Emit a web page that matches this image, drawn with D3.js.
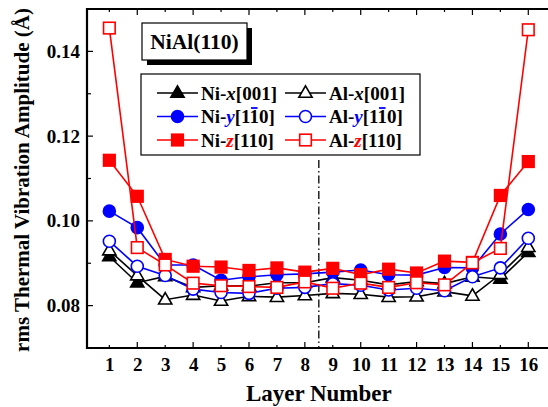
<!DOCTYPE html>
<html>
<meta charset="utf-8">
<style>
body { margin: 0; background: #fff; }
text { font-family: "Liberation Serif", "DejaVu Serif", serif; font-weight: bold; }
</style>
<script src="https://d3js.org/d3.v7.min.js"></script>
<body>
<div id="chart"></div>
<script>
// layers 1..16
var layers = d3.range(1, 17);

var niX = [0.0916, 0.0854, 0.0869, 0.0843, 0.0847, 0.0846, 0.0854, 0.0854,
           0.0866, 0.0860, 0.0849, 0.0857, 0.0852, 0.0868, 0.0863, 0.0926];
var alX = [0.0930, 0.0871, 0.0814, 0.0825, 0.0811, 0.0822, 0.0820, 0.0824,
           0.0829, 0.0827, 0.0820, 0.0821, 0.0833, 0.0823, 0.0874, 0.0938];
var niY = [0.1023, 0.0984, 0.0896, 0.0896, 0.0860, 0.0868, 0.0873, 0.0875,
           0.0879, 0.0884, 0.0873, 0.0872, 0.0890, 0.0889, 0.0969, 0.1027];
var alY = [0.0952, 0.0893, 0.0871, 0.0839, 0.0831, 0.0829, 0.0841, 0.0843,
           0.0852, 0.0848, 0.0837, 0.0841, 0.0835, 0.0868, 0.0889, 0.0959];
var niZ = [0.1143, 0.1058, 0.0909, 0.0893, 0.0891, 0.0883, 0.0889, 0.0879,
           0.0888, 0.0873, 0.0886, 0.0877, 0.0905, 0.0902, 0.1060, 0.1140];
var alZ = [0.1455, 0.0937, 0.0896, 0.0853, 0.0847, 0.0845, 0.0843, 0.0856,
           0.0841, 0.0853, 0.0843, 0.0854, 0.0849, 0.0901, 0.0935, 0.1451];

var yTicks = [0.08, 0.10, 0.12, 0.14];
var yMinor = [0.09, 0.11, 0.13];

var series = [
  {name: "Ni", dir: "x", idx: "[001]", values: niX, color: "#000", shape: "tri", filled: true},
  {name: "Al", dir: "x", idx: "[001]", values: alX, color: "#000", shape: "tri", filled: false},
  {name: "Ni", dir: "y", idx: "[1_10]", values: niY, color: "#0000ff", shape: "circ", filled: true},
  {name: "Al", dir: "y", idx: "[1_10]", values: alY, color: "#0000ff", shape: "circ", filled: false},
  {name: "Ni", dir: "z", idx: "[110]", values: niZ, color: "#ff0000", shape: "sq", filled: true},
  {name: "Al", dir: "z", idx: "[110]", values: alZ, color: "#ff0000", shape: "sq", filled: false}
];

var W = 548, H = 407;
var plotL = 87, plotT = 9, plotB = 348;

var svg = d3.select("#chart").append("svg")
  .attr("width", W).attr("height", H);

var x = d3.scaleLinear().domain([0.2, 16.8]).range([plotL, plotL + 16.6 * 27.93]);
var y = d3.scaleLinear().domain([0.07, 0.15]).range([plotB, plotT]);

// frame
var frame = svg.append("g");
frame.append("line").attr("x1", plotL).attr("x2", x.range()[1]).attr("y1", plotB).attr("y2", plotB)
  .attr("stroke", "#000").attr("stroke-width", 2.2);
frame.append("line").attr("x1", plotL).attr("x2", x.range()[1]).attr("y1", plotT).attr("y2", plotT)
  .attr("stroke", "#000").attr("stroke-width", 1.8);
frame.append("line").attr("x1", plotL).attr("x2", plotL).attr("y1", plotT - 1).attr("y2", plotB + 1)
  .attr("stroke", "#000").attr("stroke-width", 2.2);

// x axis (bottom, ticks inside)
var xAxis = svg.append("g").attr("transform", "translate(0," + plotB + ")")
  .call(d3.axisBottom(x).tickValues(layers).tickSize(0).tickPadding(10).tickFormat(d3.format("d")));
xAxis.select(".domain").remove();
xAxis.selectAll("text").attr("font-size", 19).attr("fill", "#000")
  .style("font-family", "Liberation Serif").style("font-weight", "bold");

svg.selectAll(".xtick").data(layers).enter().append("line")
  .attr("x1", function(d) { return x(d); }).attr("x2", function(d) { return x(d); })
  .attr("y1", plotB).attr("y2", function(d) { return plotB - (d % 2 === 0 ? 6 : 3); })
  .attr("stroke", "#000").attr("stroke-width", 1.2);
svg.selectAll(".xtickTop").data(layers).enter().append("line")
  .attr("x1", function(d) { return x(d); }).attr("x2", function(d) { return x(d); })
  .attr("y1", plotT).attr("y2", function(d) { return plotT + (d % 2 === 0 ? 6 : 3); })
  .attr("stroke", "#000").attr("stroke-width", 1.2);

// y axis
var yAxis = svg.append("g").attr("transform", "translate(" + plotL + ",0)")
  .call(d3.axisLeft(y).tickValues(yTicks).tickSize(0).tickPadding(7).tickFormat(d3.format(".2f")));
yAxis.select(".domain").remove();
yAxis.selectAll("text").attr("font-size", 19).attr("fill", "#000")
  .style("font-family", "Liberation Serif").style("font-weight", "bold");
svg.selectAll(".ytick").data(yTicks.concat(yMinor)).enter().append("line")
  .attr("x1", plotL).attr("x2", function(d) { return plotL + (yTicks.indexOf(d) >= 0 ? 6 : 4); })
  .attr("y1", function(d) { return y(d); }).attr("y2", function(d) { return y(d); })
  .attr("stroke", "#000").attr("stroke-width", 1.2);

// axis titles
svg.append("text").attr("x", (plotL + x.range()[1]) / 2).attr("y", 401)
  .attr("text-anchor", "middle").attr("font-size", 23).text("Layer Number");
svg.append("text").attr("transform", "translate(29,180) rotate(-90)")
  .attr("text-anchor", "middle").attr("font-size", 21).text("rms Thermal Vibration Amplitude (Å)");

// dash-dot divider between layer 8 and 9
svg.append("line").attr("x1", x(8.5)).attr("x2", x(8.5)).attr("y1", 160).attr("y2", plotB)
  .attr("stroke", "#000").attr("stroke-width", 1.3).attr("stroke-dasharray", "8,3,1.5,3");

function marker(g, s, cx, cy) {
  var fill = s.filled ? s.color : "#fff";
  if (s.shape === "sq") {
    g.append("rect").attr("x", cx - 5.8).attr("y", cy - 5.8).attr("width", 11.6).attr("height", 11.6)
      .attr("fill", fill).attr("stroke", s.color).attr("stroke-width", 1.6);
  } else if (s.shape === "circ") {
    g.append("circle").attr("cx", cx).attr("cy", cy).attr("r", 6)
      .attr("fill", fill).attr("stroke", s.color).attr("stroke-width", 1.6);
  } else {
    g.append("path").attr("d", d3.symbol().type(d3.symbolTriangle).size(76)())
      .attr("transform", "translate(" + cx + "," + (cy + 0.5) + ")")
      .attr("fill", fill).attr("stroke", s.color).attr("stroke-width", 1.6);
  }
}

var line = d3.line().x(function(d, i) { return x(layers[i]); }).y(function(d) { return y(d); });

series.forEach(function(s) {
  var g = svg.append("g");
  g.append("path").datum(s.values).attr("d", line)
    .attr("fill", "none").attr("stroke", s.color).attr("stroke-width", 1.6);
  s.values.forEach(function(v, i) { marker(g, s, x(layers[i]), y(v)); });
});

// NiAl(110) box with shadow
svg.append("rect").attr("x", 147).attr("y", 28).attr("width", 105).attr("height", 37).attr("fill", "#000");
svg.append("rect").attr("x", 142).attr("y", 23).attr("width", 105).attr("height", 37)
  .attr("fill", "#fff").attr("stroke", "#000").attr("stroke-width", 1.2);
svg.append("text").attr("x", 194.5).attr("y", 49).attr("text-anchor", "middle")
  .attr("font-size", 21.5).text("NiAl(110)");

// legend
var legend = svg.append("g");
legend.append("rect").attr("x", 141).attr("y", 74).attr("width", 279).attr("height", 81)
  .attr("fill", "#fff").attr("stroke", "#000").attr("stroke-width", 1.2);
var rowY = [93, 116.5, 140];
var colX = [157, 285];
series.forEach(function(s, k) {
  var cx = colX[k % 2], cy = rowY[Math.floor(k / 2)];
  var g = legend.append("g");
  g.append("line").attr("x1", cx).attr("x2", cx + 41).attr("y1", cy).attr("y2", cy)
    .attr("stroke", s.color).attr("stroke-width", 1.6);
  marker(g, s, cx + 20.5, cy);
  var t = g.append("text").attr("x", cx + 44).attr("y", cy + 6.5).attr("font-size", 19);
  t.append("tspan").text(s.name + "-");
  t.append("tspan").attr("font-style", "italic").attr("fill", s.dir === "x" ? "#000" : s.color).text(s.dir);
  var bar = s.idx.indexOf("_") >= 0;
  t.append("tspan").text(s.idx.replace("_", ""));
  if (bar) {
    // overline on the second "1"
    var n = (s.name + "-" + s.dir + "[1").length;
    var ext = t.node().getExtentOfChar(n);
    g.append("line").attr("x1", ext.x + 1.5).attr("x2", ext.x + ext.width - 1.5)
      .attr("y1", ext.y + 2).attr("y2", ext.y + 2)
      .attr("stroke", s.color).attr("stroke-width", 1.8);
  }
});
</script>
</body>
</html>
